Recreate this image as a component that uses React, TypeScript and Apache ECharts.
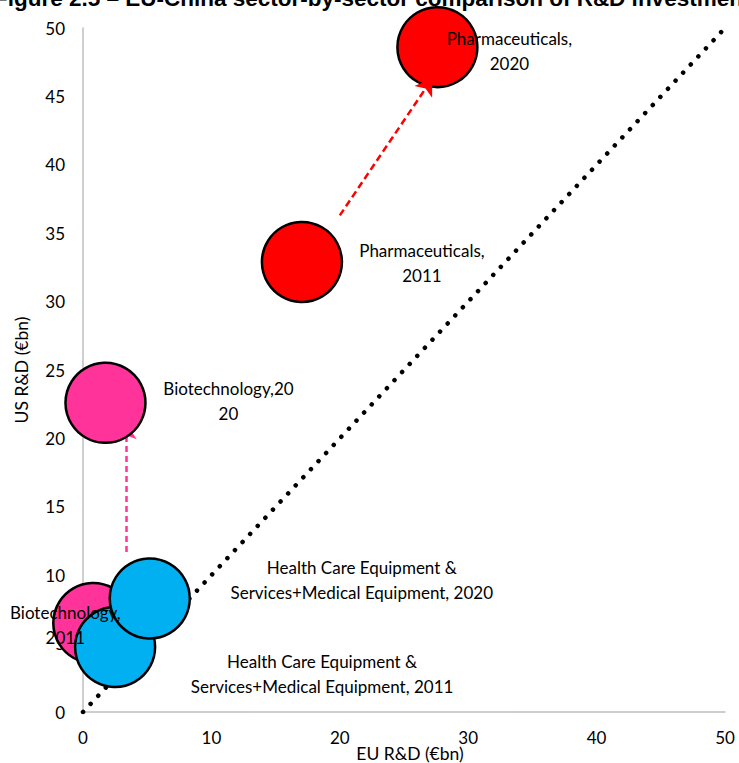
import React, { useEffect, useRef } from "react";
import * as echarts from "echarts";

const labels = [
  "Biotechnology,\n2011",
  "Health Care Equipment &\nServices+Medical Equipment, 2011",
  "Health Care Equipment &\nServices+Medical Equipment, 2020",
  "Biotechnology,20\n20",
  "Pharmaceuticals,\n2011",
  "Pharmaceuticals,\n2020",
];
const euValues = [0.8, 2.5, 5.2, 1.75, 17.05, 27.6];
const usValues = [6.5, 4.75, 8.3, 22.6, 32.9, 48.6];
const colors = ["#FF3399", "#00B0F0", "#00B0F0", "#FF3399", "#FF0000", "#FF0000"];
const labelOffsets = [
  [-28, 2],
  [207, 27],
  [212, -18],
  [123, -2],
  [120, 1],
  [72, 4],
];
const axisTicks = [0, 10, 20, 30, 40, 50];
const pharmaArrow = [
  [20.0, 36.3],
  [27.2, 46.3],
];
const biotechArrow = [
  [3.35, 11.7],
  [3.35, 21.1],
];
const parity = [
  [0, 0],
  [50, 50],
];

const FONT = "Lato, 'Open Sans', sans-serif";

export default function App() {
  const ref = useRef<HTMLDivElement>(null);
  useEffect(() => {
    const chart = echarts.init(ref.current!, null, { renderer: "svg", width: 739, height: 763 });
    chart.setOption({
      animation: false,
      textStyle: { fontFamily: FONT },
      graphic: [
        {
          type: "text",
          left: -6,
          top: -13,
          style: {
            text: "Figure 2.5 – EU-China sector-by-sector comparison of R&D investment",
            font: "bold 22.5px 'Liberation Sans', sans-serif",
            fill: "#000",
          },
        },
      ],
      grid: { left: 83, right: 14, top: 28, bottom: 51, outerBoundsMode: "none", containLabel: false },
      xAxis: {
        type: "value",
        min: axisTicks[0],
        max: axisTicks[axisTicks.length - 1],
        interval: 10,
        name: "EU R&D (€bn)",
        nameLocation: "middle",
        nameGap: 32,
        nameMoveOverlap: false,
        nameTextStyle: { fontSize: 17.5, color: "#000", fontFamily: FONT, padding: [0, 0, 0, 12] },
        axisLine: { lineStyle: { color: "#BFBFBF", width: 1.5 } },
        axisTick: { show: false },
        splitLine: { show: false },
        axisLabel: { fontSize: 17, color: "#000", margin: 17, fontFamily: FONT },
      },
      yAxis: {
        type: "value",
        min: axisTicks[0],
        max: axisTicks[axisTicks.length - 1],
        interval: 5,
        name: "US R&D (€bn)",
        nameLocation: "middle",
        nameGap: 53,
        nameMoveOverlap: false,
        nameTextStyle: { fontSize: 17.5, color: "#000", fontFamily: FONT },
        axisLine: { show: true, lineStyle: { color: "#BFBFBF", width: 1.5 } },
        axisTick: { show: false },
        splitLine: { show: false },
        axisLabel: { fontSize: 17, color: "#000", margin: 18, fontFamily: FONT },
      },
      series: [
        {
          type: "line",
          data: parity,
          symbol: "none",
          z: 1,
          lineStyle: { color: "#000", width: 4.5, type: [0.1, 11], cap: "round" },
        },
        {
          type: "lines",
          coordinateSystem: "cartesian2d",
          z: 1,
          symbol: ["none", "arrow"],
          symbolSize: 16,
          data: [{ coords: biotechArrow }],
          lineStyle: { color: "#FF3399", width: 2.5, type: [6, 4], opacity: 1 },
        },
        {
          type: "scatter",
          z: 2,
          symbolSize: 80,
          data: euValues.map((x, i) => ({
            value: [x, usValues[i]],
            itemStyle: { color: colors[i], borderColor: "#000", borderWidth: 2.5, opacity: 1 },
            label: {
              show: true,
              formatter: labels[i],
              position: "inside",
              offset: labelOffsets[i],
              align: "center",
              fontSize: 17,
              lineHeight: 25,
              color: "#000",
              fontFamily: FONT,
            },
          })),
        },
        {
          type: "lines",
          coordinateSystem: "cartesian2d",
          z: 3,
          symbol: ["none", "arrow"],
          symbolSize: 16,
          data: [{ coords: pharmaArrow }],
          lineStyle: { color: "#FF0000", width: 2.5, type: [7, 4], opacity: 1 },
        },
      ],
    });
    return () => chart.dispose();
  }, []);
  return <div ref={ref} style={{ width: 739, height: 763, position: "absolute", left: 0, top: 0 }} />;
}
